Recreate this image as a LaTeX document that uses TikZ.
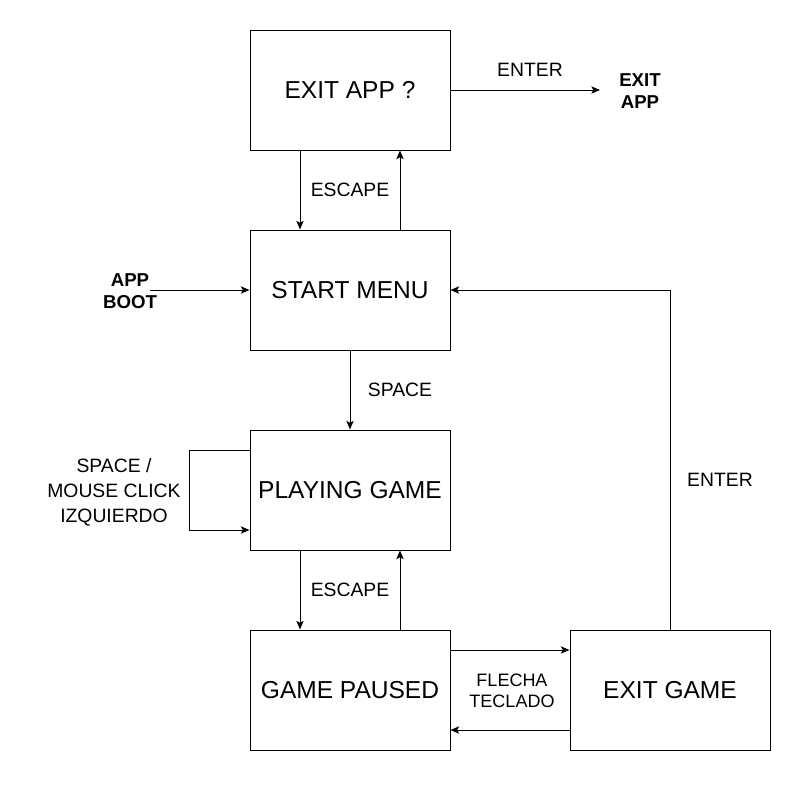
\documentclass[tikz,border=0pt]{standalone}
\usepackage{fontspec}
\setmainfont{Liberation Sans}
\usetikzlibrary{arrows.meta}
\tikzset{
  box/.style={draw, line width=0.75pt, minimum width=150pt, minimum height=90pt, inner sep=0pt, font=\fontsize{18.4}{21}\selectfont},
  arr/.style={line width=0.75pt, -{Stealth[length=6.5pt,width=5.5pt,inset=1.5pt]}},
  lbl/.style={inner sep=0pt, align=center, font=\fontsize{14.5}{18.75}\selectfont},
  blbl/.style={inner sep=0pt, align=center, font=\fontsize{14}{16.5}\selectfont\bfseries},
}
\begin{document}
\begin{tikzpicture}[x=0.75pt,y=-0.75pt]
\useasboundingbox (0,0) rectangle (801,789);
\node[box] (exitapp) at (350,90) {EXIT APP ?};
\node[box] (start) at (350,290) {START MENU};
\node[box] (play) at (350,490) {PLAYING GAME};
\node[box] (paused) at (350,690) {GAME PAUSED};
\node[box] (exitgame) at (670,690) {EXIT GAME};
\coordinate (exitend) at (600,90);
\coordinate (bootstart) at (150,290);
\node[blbl] (exitlbl) at (640,91) {EXIT\\APP};
\node[blbl] (bootlbl) at (130,291) {APP\\BOOT};
\node[lbl] (enter1) at (530,70) {ENTER};
\node[lbl] (esc1) at (350,190) {ESCAPE};
\node[lbl] (space) at (400,390) {SPACE};
\node[lbl] (looplbl) at (114,492) {SPACE /\\MOUSE CLICK\\IZQUIERDO};
\node[lbl] (esc2) at (350,590) {ESCAPE};
\node[lbl, font=\fontsize{13.5}{16}\selectfont] (flecha) at (512,691) {FLECHA\\TECLADO};
\node[lbl] (enter2) at (720,480) {ENTER};
\draw[arr] (exitapp.east) -- (exitend);
\draw[arr] ([xshift=-37.5pt]exitapp.south) -- ([xshift=-37.5pt]start.north);
\draw[arr] ([xshift=37.5pt]start.north) -- ([xshift=37.5pt]exitapp.south);
\draw[arr] (bootstart) -- (start.west);
\draw[arr] (start.south) -- (play.north);
\draw[arr] ([yshift=30pt]play.west) -- ++(-45pt,0) |- ([yshift=-30pt]play.west);
\draw[arr] ([xshift=-37.5pt]play.south) -- ([xshift=-37.5pt]paused.north);
\draw[arr] ([xshift=37.5pt]paused.north) -- ([xshift=37.5pt]play.south);
\draw[arr] ([yshift=30pt]paused.east) -- ([yshift=30pt]exitgame.west);
\draw[arr] ([yshift=-30pt]exitgame.west) -- ([yshift=-30pt]paused.east);
\draw[arr] (exitgame.north) |- (start.east);
\end{tikzpicture}
\end{document}
